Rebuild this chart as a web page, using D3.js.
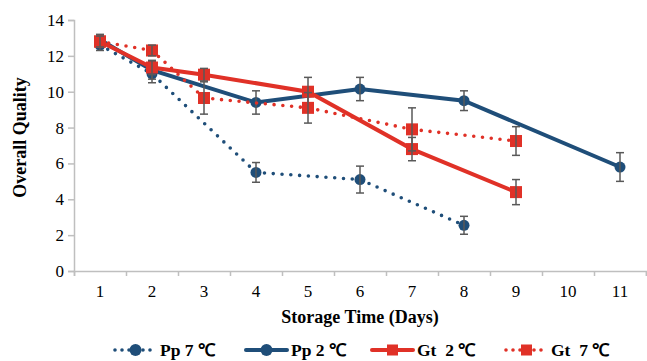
<!DOCTYPE html>
<html>
<head>
<meta charset="utf-8">
<script src="https://cdn.jsdelivr.net/npm/d3@7"></script>
<style>
  body { margin: 0; background: #fff; }
  svg text { font-family: "Liberation Serif", "Times New Roman", serif; fill: #000; }
  .axisTitle { font-weight: bold; font-size: 18px; }
  .legendTxt { font-weight: bold; font-size: 17.5px; }
</style>
</head>
<body>
<div id="chart"></div>
<script>
var days = [1, 2, 3, 4, 5, 6, 7, 8, 9, 10, 11];
var yTicks = [0, 2, 4, 6, 8, 10, 12, 14];

// null = no measurement that day (line is carried across)
var pp7Vals = [12.6, 11.0, null, 5.5, null, 5.1, null, 2.55, null, null, null];
var pp7Err  = [0.3, 0.5, null, 0.55, null, 0.75, null, 0.5, null, null, null];
var pp2Vals = [12.9, 11.2, null, 9.4, null, 10.15, null, 9.5, null, null, 5.8];
var pp2Err  = [0.3, 0.5, null, 0.65, null, 0.65, null, 0.55, null, null, 0.8];
var gt2Vals = [12.8, 11.35, 10.95, null, 10.0, null, 6.8, null, 4.4, null, null];
var gt2Err  = [0.3, 0.4, 0.35, null, 0.8, null, 0.65, null, 0.7, null, null];
var gt7Vals = [12.8, 12.3, 9.65, null, 9.1, null, 7.9, null, 7.25, null, null];
var gt7Err  = [0.3, 0.3, 0.9, null, 0.85, null, 1.2, null, 0.8, null, null];

var seriesNames = ["Pp 7 \u2103", "Pp 2 \u2103", "Gt\u00a0 2 \u2103", "Gt\u00a0 7 \u2103"];

function toPoints(vals, errs) {
  var pts = [];
  for (var i = 0; i < days.length; i++) {
    if (vals[i] != null) pts.push({ day: days[i], val: vals[i], err: errs[i] });
  }
  return pts;
}

var series = [
  { name: seriesNames[0], pts: toPoints(pp7Vals, pp7Err), color: "#1F4E79", dotted: true,  shape: "circle" },
  { name: seriesNames[1], pts: toPoints(pp2Vals, pp2Err), color: "#1F4E79", dotted: false, shape: "circle" },
  { name: seriesNames[2], pts: toPoints(gt2Vals, gt2Err), color: "#E03127", dotted: false, shape: "square" },
  { name: seriesNames[3], pts: toPoints(gt7Vals, gt7Err), color: "#E03127", dotted: true,  shape: "square" }
];

var W = 647, H = 361;
var margin = { top: 20, right: 1, bottom: 90, left: 74 },
    width = W - margin.left - margin.right,
    height = H - margin.top - margin.bottom;

var svg = d3.select("#chart").append("svg")
    .attr("width", W).attr("height", H)
  .append("g")
    .attr("transform", "translate(" + margin.left + "," + margin.top + ")");

var x = d3.scaleBand().domain(days).range([0, width]);
var xEdge = d3.scaleLinear().domain([0, days.length]).range([0, width]);
var y = d3.scaleLinear().domain([0, 14]).range([height, 0]);
function cx(d) { return x(d) + x.bandwidth() / 2; }

// y axis
var yAx = svg.append("g").call(d3.axisLeft(y).tickValues(yTicks).tickSize(6).tickPadding(4));
yAx.select(".domain").attr("stroke", "#bfbfbf").attr("stroke-width", 1.5);
yAx.selectAll(".tick line").attr("stroke", "#bfbfbf").attr("stroke-width", 1.5);
yAx.selectAll("text").style("font-size", "17px").style("font-family", "Liberation Serif");

// x axis: labels centred, tick marks on the band edges
var xAx = svg.append("g").attr("transform", "translate(0," + height + ")")
    .call(d3.axisBottom(x).tickSize(0).tickPadding(14));
xAx.select(".domain").remove();
xAx.selectAll("text").style("font-size", "17px").style("font-family", "Liberation Serif");
var xTk = svg.append("g").attr("transform", "translate(0," + height + ")")
    .call(d3.axisBottom(xEdge).tickValues(d3.range(0, days.length + 1)).tickSize(5).tickFormat(""));
xTk.select(".domain").attr("stroke", "#bfbfbf").attr("stroke-width", 1.5);
xTk.selectAll(".tick line").attr("stroke", "#bfbfbf").attr("stroke-width", 1.5);

svg.append("text").attr("class", "axisTitle")
    .attr("transform", "translate(-48," + (height / 2 - 8) + ") rotate(-90)")
    .attr("text-anchor", "middle").text("Overall Quality");
svg.append("text").attr("class", "axisTitle")
    .attr("x", width / 2).attr("y", height + 52)
    .attr("text-anchor", "middle").text("Storage Time (Days)");

var line = d3.line().x(function(d) { return cx(d.day); }).y(function(d) { return y(d.val); });

function drawMarker(g, shape, color, px, py, size) {
  if (shape === "circle") {
    g.append("circle").attr("cx", px).attr("cy", py).attr("r", size / 2).attr("fill", color);
  } else {
    g.append("rect").attr("x", px - size / 2).attr("y", py - size / 2)
      .attr("width", size).attr("height", size).attr("fill", color);
  }
}

series.forEach(function(s) {
  var g = svg.append("g");
  g.append("path").datum(s.pts)
    .attr("d", line)
    .attr("fill", "none")
    .attr("stroke", s.color)
    .attr("stroke-width", s.dotted ? 3.6 : 4)
    .attr("stroke-linecap", "round")
    .attr("stroke-dasharray", s.dotted ? "0 8.8" : null);

  s.pts.forEach(function(p) {
    drawMarker(g, s.shape, s.color, cx(p.day), y(p.val), s.shape === "circle" ? 11 : 12);
  });

  var eb = g.append("g").attr("stroke", "#595959").attr("stroke-width", 1.5);
  s.pts.forEach(function(p) {
    var px = cx(p.day), y1 = y(p.val + p.err), y2 = y(p.val - p.err);
    eb.append("line").attr("x1", px).attr("x2", px).attr("y1", y1).attr("y2", y2);
    eb.append("line").attr("x1", px - 4).attr("x2", px + 4).attr("y1", y1).attr("y2", y1);
    eb.append("line").attr("x1", px - 4).attr("x2", px + 4).attr("y1", y2).attr("y2", y2);
  });
});

// legend
var legendX = [115, 246, 372, 506];
var legend = d3.select("svg").append("g").attr("transform", "translate(0,350)");
series.forEach(function(s, i) {
  var lg = legend.append("g").attr("transform", "translate(" + legendX[i] + ",0)");
  lg.append("line").attr("x1", 0).attr("x2", 41).attr("y1", 0).attr("y2", 0)
    .attr("stroke", s.color)
    .attr("stroke-width", s.dotted ? 3.6 : 4)
    .attr("stroke-linecap", "round")
    .attr("stroke-dasharray", s.dotted ? "0 7" : null);
  drawMarker(lg, s.shape, s.color, 20.5, 0, s.shape === "circle" ? 12 : 11);
  lg.append("text").attr("class", "legendTxt").attr("x", 45).attr("y", 6).text(s.name);
});
</script>
</body>
</html>
